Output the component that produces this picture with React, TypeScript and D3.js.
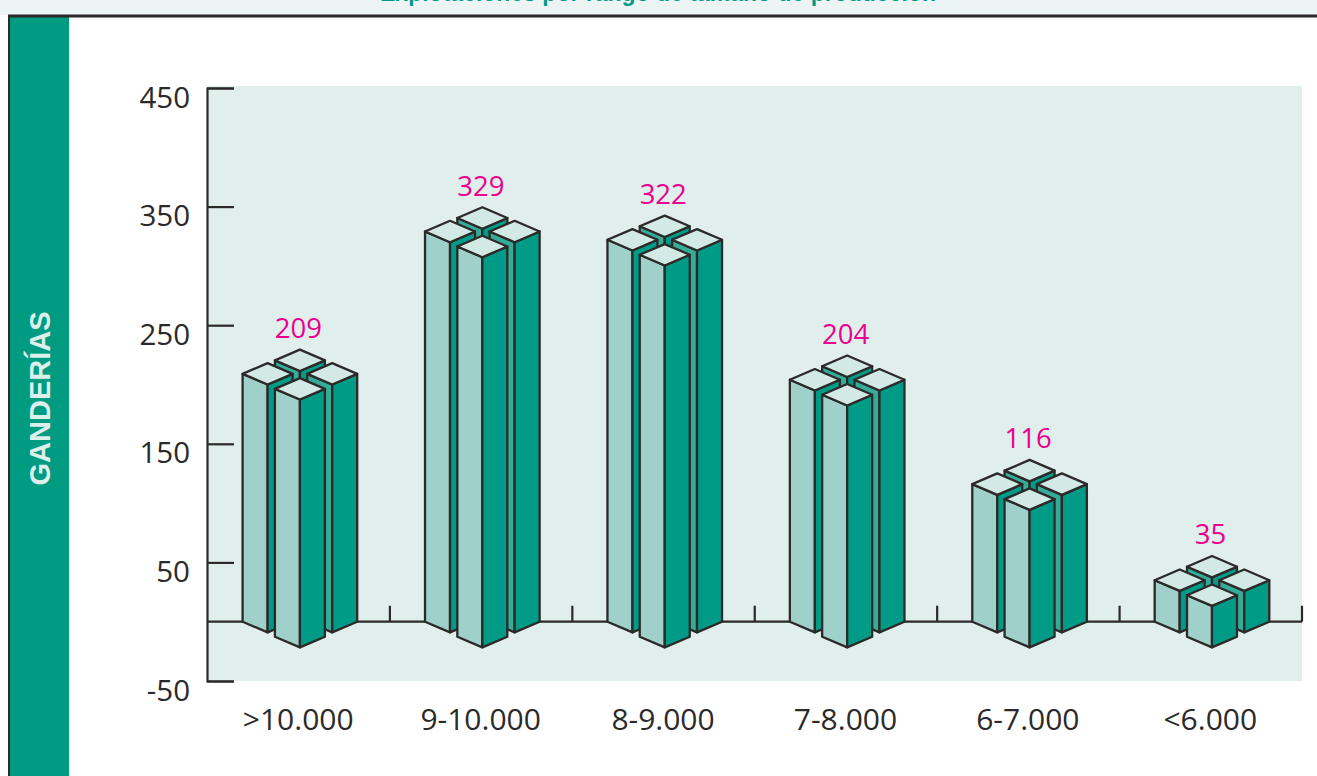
import React, { useEffect, useRef } from 'react';
import * as d3 from 'd3';

const categories = ['>10.000', '9-10.000', '8-9.000', '7-8.000', '6-7.000', '<6.000'];
const values = [209, 329, 322, 204, 116, 35];
const yTicks = [-50, 50, 150, 250, 350, 450];
// title is cut off by the crop in the source picture, wording is a guess
const title = 'Explotaciones por rango de tamaño de producción';

const TEAL = '#009b86';
const MID = '#35ab98';
const LIGHT = '#9fd0c9';
const TOP = '#d3e9e6';
const INK = '#2b2a29';
const PINK = '#ec008c';

// one block of the 4-column group: offset from group centre, and the left face colour
const columns = [
  { dx: 0, dy: -13.5, left: MID },
  { dx: -32.3, dy: 0, left: LIGHT },
  { dx: 32.3, dy: 0, left: MID },
  { dx: 0, dy: 15, left: LIGHT },
];
const HALF_W = 25;
const HALF_H = 10.7;

function App() {
  const ref = useRef<SVGSVGElement>(null);

  useEffect(() => {
    const svg = d3.select(ref.current);
    svg.selectAll('*').remove();

    const x = d3.scaleBand<string>().domain(categories).range([207.5, 1302]);
    const y = d3.scaleLinear().domain([-50, 450]).range([681, 88]);
    const font = '"Open Sans", sans-serif';

    // page frame
    svg.append('rect').attr('x', 0).attr('y', 0).attr('width', 1317).attr('height', 15).attr('fill', '#edf5f4');
    svg.append('text')
      .attr('x', 658).attr('y', 0.5)
      .attr('text-anchor', 'middle')
      .attr('font-family', '"Liberation Sans", sans-serif')
      .attr('font-weight', 700)
      .attr('font-size', 23)
      .attr('fill', TEAL)
      .text(title);
    svg.append('rect').attr('x', 0).attr('y', 15).attr('width', 1317).attr('height', 761).attr('fill', '#fff');
    svg.append('rect').attr('x', 9).attr('y', 15).attr('width', 60).attr('height', 761).attr('fill', '#009b80');
    svg.append('line').attr('x1', 8).attr('x2', 1317).attr('y1', 16).attr('y2', 16).attr('stroke', INK).attr('stroke-width', 3);
    svg.append('line').attr('x1', 9).attr('x2', 9).attr('y1', 15).attr('y2', 776).attr('stroke', INK).attr('stroke-width', 2);
    svg.append('text')
      .attr('transform', 'translate(50,398.5) rotate(-90)')
      .attr('text-anchor', 'middle')
      .attr('font-family', '"Liberation Sans", sans-serif')
      .attr('font-weight', 700)
      .attr('font-size', 29)
      .attr('fill', '#dcefeb')
      .text('GANDERÍAS');

    // plot background
    svg.append('rect').attr('x', 207).attr('y', 86).attr('width', 1095).attr('height', 595).attr('fill', '#e0efec');

    // y axis
    const yAxis = svg.append('g')
      .attr('transform', 'translate(207,0)')
      .call(d3.axisRight(y).tickValues(yTicks).tickSize(27).tickFormat(d => String(d)) as any);
    yAxis.selectAll('.domain, .tick line').attr('stroke', INK).attr('stroke-width', 2.2);
    yAxis.selectAll('.tick text')
      .attr('x', -17)
      .attr('dy', 19)
      .attr('text-anchor', 'end')
      .attr('font-family', font)
      .attr('font-size', 29.5)
      .attr('fill', INK);

    // zero line + ticks between the groups
    const y0 = y(0);
    svg.append('line')
      .attr('x1', 207).attr('x2', 1302).attr('y1', y0).attr('y2', y0)
      .attr('stroke', INK).attr('stroke-width', 2.2);
    const edges = categories.map(c => (x(c) as number) + x.bandwidth());
    svg.append('g').selectAll('line').data(edges).enter().append('line')
      .attr('x1', d => d).attr('x2', d => d)
      .attr('y1', y0 - 16).attr('y2', y0)
      .attr('stroke', INK).attr('stroke-width', 2.2);

    // x labels
    svg.append('g').selectAll('text').data(categories).enter().append('text')
      .attr('x', d => (x(d) as number) + x.bandwidth() / 2 - 0.5)
      .attr('y', 729.5)
      .attr('text-anchor', 'middle')
      .attr('font-family', font)
      .attr('font-size', 30)
      .attr('fill', INK)
      .text(d => d);

    // bars
    const face = (pts: number[][]) => d3.line()(pts as [number, number][]) + 'Z';
    categories.forEach((cat, i) => {
      const cx = (x(cat) as number) + x.bandwidth() / 2 + 1.2;
      const top = y(values[i]);
      const g = svg.append('g')
        .attr('stroke', INK).attr('stroke-width', 2.3).attr('stroke-linejoin', 'round');

      columns.forEach(c => {
        const l = cx + c.dx - HALF_W;
        const m = cx + c.dx;
        const r = cx + c.dx + HALF_W;
        const t = top + c.dy;
        const b = y0 + c.dy;
        g.append('path').attr('d', face([[l, t], [m, t + HALF_H], [m, b + HALF_H], [l, b]])).attr('fill', c.left);
        g.append('path').attr('d', face([[r, t], [m, t + HALF_H], [m, b + HALF_H], [r, b]])).attr('fill', TEAL);
        g.append('path').attr('d', face([[l, t], [m, t - HALF_H], [r, t], [m, t + HALF_H]])).attr('fill', TOP);
      });

      svg.append('text')
        .attr('x', cx - 1.5)
        .attr('y', top - 36)
        .attr('text-anchor', 'middle')
        .attr('font-family', font)
        .attr('font-size', 27.5)
        .attr('fill', PINK)
        .text(values[i]);
    });
  }, []);

  return (
    <svg
      ref={ref}
      width={1317}
      height={776}
      style={{ position: 'absolute', left: 0, top: 0, display: 'block' }}
    />
  );
}

export default App;
